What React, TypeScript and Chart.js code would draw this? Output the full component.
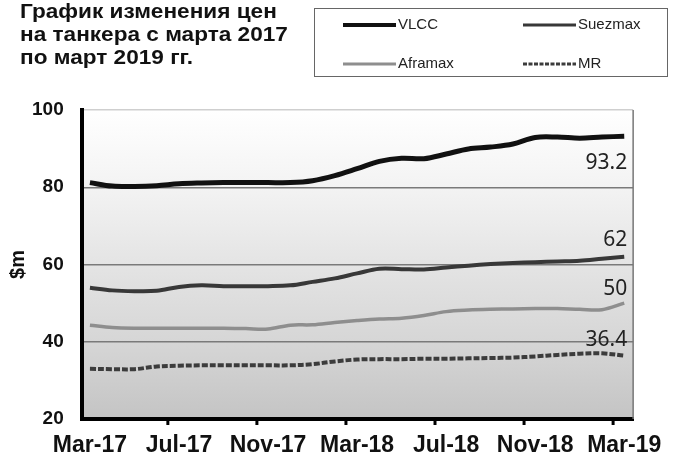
import { useEffect, useRef } from 'react';
import { Chart, registerables } from 'chart.js';

Chart.register(...registerables);

const months = [
  'Mar-17', 'Apr-17', 'May-17', 'Jun-17', 'Jul-17', 'Aug-17', 'Sep-17', 'Oct-17', 'Nov-17',
  'Dec-17', 'Jan-18', 'Feb-18', 'Mar-18', 'Apr-18', 'May-18', 'Jun-18', 'Jul-18', 'Aug-18',
  'Sep-18', 'Oct-18', 'Nov-18', 'Dec-18', 'Jan-19', 'Feb-19', 'Mar-19',
];
const tickIndices = [0, 4, 8, 12, 16, 20, 24];
const tickLabels = ['Mar-17', 'Jul-17', 'Nov-17', 'Mar-18', 'Jul-18', 'Nov-18', 'Mar-19'];
const yTicks = [20, 40, 60, 80, 100];

const vlcc = [81.2, 80.3, 80.2, 80.4, 80.9, 81.1, 81.2, 81.2, 81.2, 81.2, 81.7, 83.0, 84.8, 86.7, 87.5, 87.4, 88.6, 89.9, 90.4, 91.2, 92.9, 93.0, 92.7, 93.0, 93.2];
const suezmax = [54.0, 53.3, 53.1, 53.2, 54.2, 54.6, 54.4, 54.4, 54.4, 54.6, 55.5, 56.4, 57.7, 58.9, 58.8, 58.7, 59.2, 59.7, 60.1, 60.4, 60.6, 60.8, 61.0, 61.5, 62];
const aframax = [44.3, 43.7, 43.5, 43.5, 43.5, 43.5, 43.5, 43.4, 43.3, 44.3, 44.4, 45.0, 45.5, 45.9, 46.1, 46.8, 47.8, 48.2, 48.4, 48.5, 48.6, 48.6, 48.4, 48.3, 50];
const mr = [33.0, 32.9, 32.9, 33.6, 33.8, 33.9, 33.9, 33.9, 33.9, 33.9, 34.2, 34.9, 35.4, 35.5, 35.5, 35.6, 35.6, 35.7, 35.8, 35.9, 36.2, 36.6, 36.9, 37.0, 36.4];

const seriesNames = ['VLCC', 'Suezmax', 'Aframax', 'MR'];
const titleLines = ['График изменения цен', 'на танкера с марта 2017', 'по март 2019 гг.'];
const yTitle = '$m';

const colors = ['#111111', '#383838', '#8e8e8e', '#3c3c3c'];
const widths = [5, 4, 3.5, 4];
const labelOffsets = [27, -17, -14, -16];

const bgPlugin = {
  id: 'bgGrad',
  beforeDraw(chart: any) {
    const { ctx, chartArea: a } = chart;
    const g = ctx.createLinearGradient(0, a.top, 0, a.bottom);
    g.addColorStop(0, '#ffffff');
    g.addColorStop(0.25, '#f3f3f3');
    g.addColorStop(0.5, '#e4e4e4');
    g.addColorStop(0.75, '#d6d6d6');
    g.addColorStop(1, '#c4c4c4');
    ctx.save();
    ctx.fillStyle = g;
    ctx.fillRect(a.left, a.top, a.right - a.left, a.bottom - a.top);
    ctx.restore();
  },
};

const framePlugin = {
  id: 'frame',
  afterDraw(chart: any) {
    const { ctx, chartArea: a, scales } = chart;
    ctx.save();
    ctx.strokeStyle = '#777';
    ctx.lineWidth = 1.5;
    ctx.beginPath();
    ctx.moveTo(a.right, a.top);
    ctx.lineTo(a.right, a.bottom);
    ctx.stroke();
    ctx.strokeStyle = '#000';
    ctx.lineWidth = 3;
    for (let i = 3.5; i < 24; i += 4) {
      const x = scales.x.getPixelForValue(i);
      ctx.beginPath();
      ctx.moveTo(x, a.bottom);
      ctx.lineTo(x, a.bottom + 6);
      ctx.stroke();
    }
    // y axis title
    ctx.fillStyle = '#111';
    ctx.font = 'bold 20px "Liberation Sans"';
    ctx.textAlign = 'center';
    ctx.textBaseline = 'middle';
    ctx.translate(18, (a.top + a.bottom) / 2);
    ctx.rotate(-Math.PI / 2);
    ctx.fillText(yTitle, 0, 0);
    ctx.restore();
  },
};

const endLabelPlugin = {
  id: 'endLabels',
  afterDatasetsDraw(chart: any) {
    const { ctx } = chart;
    const series = [vlcc, suezmax, aframax, mr];
    ctx.save();
    ctx.font = '21px "Noto Sans"';
    ctx.fillStyle = '#222';
    ctx.textAlign = 'right';
    ctx.textBaseline = 'middle';
    series.forEach((s, i) => {
      const meta = chart.getDatasetMeta(i);
      const pt = meta.data[meta.data.length - 1];
      const v = s[s.length - 1];
      ctx.fillText(String(v), pt.x + 3, pt.y + labelOffsets[i]);
    });
    ctx.restore();
  },
};

const headerPlugin = {
  id: 'header',
  afterDraw(chart: any) {
    const { ctx } = chart;
    ctx.save();
    ctx.fillStyle = '#111';
    ctx.font = 'bold 20px "Liberation Sans"';
    ctx.textAlign = 'left';
    ctx.textBaseline = 'alphabetic';
    titleLines.forEach((t, i) => {
      ctx.save();
      ctx.translate(20, 18 + i * 23);
      ctx.scale(1.13, 1);
      ctx.fillText(t, 0, 0);
      ctx.restore();
    });

    // legend box
    ctx.strokeStyle = '#666';
    ctx.lineWidth = 1;
    ctx.strokeRect(314.5, 8.5, 353, 68);
    const items = [
      { x: 343, y: 25 },
      { x: 523, y: 25 },
      { x: 343, y: 64 },
      { x: 523, y: 64 },
    ];
    ctx.font = '15px "Liberation Sans"';
    ctx.textBaseline = 'middle';
    items.forEach((p, i) => {
      ctx.beginPath();
      ctx.strokeStyle = colors[i];
      ctx.lineWidth = i === 0 ? 4 : 3;
      ctx.setLineDash(i === 3 ? [4, 1.5] : []);
      ctx.moveTo(p.x, p.y);
      ctx.lineTo(p.x + 53, p.y);
      ctx.stroke();
      ctx.setLineDash([]);
      ctx.fillStyle = '#222';
      ctx.fillText(seriesNames[i], p.x + 55, p.y);
    });
    ctx.restore();
  },
};

export default function App() {
  const ref = useRef<HTMLCanvasElement | null>(null);
  useEffect(() => {
    if (!ref.current) return;
    const series = [vlcc, suezmax, aframax, mr];
    const chart = new Chart(ref.current, {
      type: 'line',
      data: {
        datasets: series.map((s, i) => ({
          label: seriesNames[i],
          data: s.map((v, j) => ({ x: j, y: v, m: months[j] })),
          borderColor: colors[i],
          borderWidth: widths[i],
          borderDash: i === 3 ? [6, 2] : [],
          pointRadius: 0,
          tension: 0.35,
          fill: false,
        })),
      },
      options: {
        animation: false,
        responsive: true,
        maintainAspectRatio: false,
        layout: { padding: { top: 110, right: 43, bottom: -15, left: 14 } },
        plugins: { legend: { display: false }, tooltip: { enabled: false }, title: { display: false } },
        scales: {
          x: {
            type: 'linear',
            min: -0.37,
            max: 24.4,
            afterBuildTicks: (s: any) => {
              s.ticks = tickIndices.map((v) => ({ value: v }));
            },
            ticks: {
              autoSkip: false,
              maxRotation: 0,
              padding: 15,
              color: '#111',
              font: { family: 'Liberation Sans', weight: 'bold', size: 23, lineHeight: 1 },
              callback: (_v: any, idx: number) => tickLabels[idx] ?? '',
            },
            grid: { display: false, drawTicks: false },
            border: { display: true, color: '#000', width: 4 },
          },
          y: {
            min: 20,
            max: 100,
            afterBuildTicks: (s: any) => {
              s.ticks = yTicks.map((v) => ({ value: v }));
            },
            ticks: {
              padding: 18,
              color: '#111',
              font: { family: 'Liberation Sans', weight: 'bold', size: 19 },
            },
            grid: {
              drawTicks: false,
              lineWidth: 1.5,
              color: (c: any) => {
                const v = c.tick?.value;
                if (v === 100) return '#cfcfcf';
                if (v === 20) return 'rgba(0,0,0,0)';
                return '#7a7a7a';
              },
            },
            border: { display: true, color: '#000', width: 4 },
          },
        },
      },
      plugins: [bgPlugin, framePlugin, endLabelPlugin, headerPlugin],
    } as any);
    return () => chart.destroy();
  }, []);
  return (
    <div style={{ position: 'fixed', left: 0, top: 0, width: 677, height: 457, background: '#fff' }}>
      <canvas ref={ref} />
    </div>
  );
}
